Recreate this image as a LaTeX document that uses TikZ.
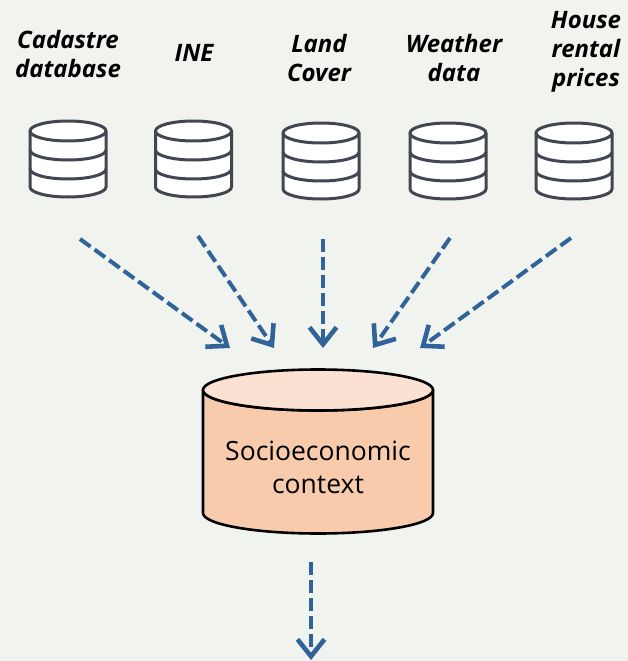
\documentclass[tikz,border=0pt]{standalone}
\usepackage{fontspec}
\setmainfont{Open Sans}
\usetikzlibrary{arrows.meta}
\definecolor{bgc}{HTML}{F1F4EE}
\definecolor{arrowc}{HTML}{2F6399}
\definecolor{dbc}{HTML}{414650}
\definecolor{bodyc}{HTML}{F8CBAD}
\definecolor{topc}{HTML}{FBE1D1}
\tikzset{
  srclabel/.style={font=\fontsize{24}{29}\selectfont\bfseries\itshape, align=center, text=black, inner sep=0pt},
  flow/.style={draw=arrowc, line width=4pt, dash pattern=on 13pt off 5pt, -{Straight Barb[length=17pt,width=27pt,line width=4.6pt]}},
  dbline/.style={draw=dbc, line width=3pt, line join=round},
  pics/minidb/.style={code={
    \fill[white] (-38,-28) arc[x radius=38,y radius=10,start angle=180,end angle=360] -- (38,28) arc[x radius=38,y radius=10,start angle=0,end angle=180] -- cycle;
    \draw[dbline] (0,-28) ellipse[x radius=38,y radius=10];
    \draw[dbline] (-38,-28) -- (-38,28) arc[x radius=38,y radius=10,start angle=180,end angle=0] -- (38,-28);
    \draw[dbline] (-38,-9) arc[x radius=38,y radius=10,start angle=180,end angle=0];
    \draw[dbline] (-38,10) arc[x radius=38,y radius=10,start angle=180,end angle=0];
  }}
}
\begin{document}
\begin{tikzpicture}[x=1pt,y=-1pt]
\useasboundingbox (0,0) rectangle (628,661);
\fill[bgc] (0,0) rectangle (628,661);

\node[srclabel] (l1) at (68,54) {Cadastre\\database};
\node[srclabel] (l2) at (194,53) {INE};
\node[srclabel] (l3) at (319,58) {Land\\Cover};
\node[srclabel] (l4) at (454,58) {Weather\\data};
\node[srclabel] (l5) at (586,52) {House\\rental\\prices};

\pic at (68,159) {minidb};
\pic at (193.5,159) {minidb};
\pic at (321,161) {minidb};
\pic at (448,161) {minidb};
\pic at (574,161) {minidb};

\coordinate (s1) at (80,239);
\coordinate (s2) at (198,236);
\coordinate (s3) at (323,239);
\coordinate (s4) at (450,238);
\coordinate (s5) at (571,238);
\coordinate (e1) at (230,348);
\coordinate (e2) at (274,348);
\coordinate (e3) at (323,348);
\coordinate (e4) at (373,348);
\coordinate (e5) at (420,348);
\coordinate (o1) at (311,562);
\coordinate (o2) at (311,660);

\draw[flow] (s1) -- (e1);
\draw[flow] (s2) -- (e2);
\draw[flow] (s3) -- (e3);
\draw[flow] (s4) -- (e4);
\draw[flow] (s5) -- (e5);
\draw[flow] (o1) -- (o2);

\draw[black, line width=2.6pt, fill=bodyc, line join=round] (203,390) -- (203,513) arc[x radius=115,y radius=20.5,start angle=180,end angle=0] -- (433,390) arc[x radius=115,y radius=20.5,start angle=0,end angle=180] -- cycle;
\draw[black, line width=2.6pt, fill=topc] (318,390) ellipse[x radius=115,y radius=20.5];
\node[font=\fontsize{26.5}{33}\selectfont, align=center, text=black, inner sep=0pt] (ctx) at (318,467) {Socioeconomic\\context};
\end{tikzpicture}
\end{document}
